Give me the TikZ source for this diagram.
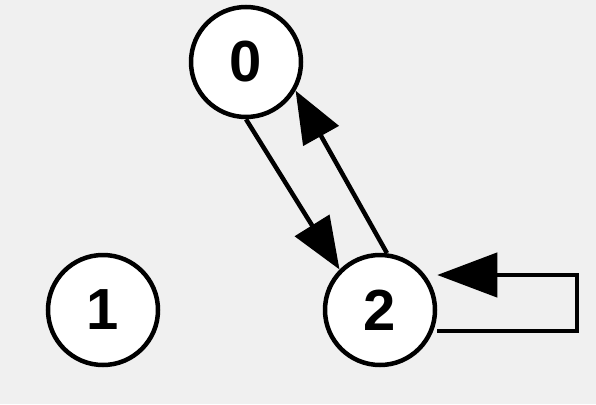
\documentclass[tikz,border=0pt]{standalone}
\usepackage{fontspec}
\setmainfont{Liberation Sans}
\usetikzlibrary{arrows.meta}
\definecolor{paper}{gray}{0.94}
\begin{document}
\begin{tikzpicture}[x=1pt,y=-1pt,
  state/.style={circle,draw=black,fill=white,line width=4.5pt,minimum size=110pt,inner sep=0pt,
    font=\fontsize{58}{58}\selectfont\bfseries},
  edge/.style={line width=4.5pt,-{Triangle[length=52pt,width=40pt]}}]
\fill[paper] (0,0) rectangle (596,404);
\useasboundingbox (0,0) rectangle (596,404);
\node[state] (n0) at (246,62) {0};
\node[state] (n1) at (103,310) {1};
\node[state] (n2) at (380,310) {2};
\draw[edge] (n0.-90) -- (n2.135);
\draw[edge] (n2.83) -- (n0.-30);
\coordinate (c1) at (577,331);
\coordinate (c2) at (577,275);
\draw[line width=4.5pt,-{Triangle[length=60pt,width=44pt]}] (n2.east |- c1) -- (c1) -- (c2) -- (n2.east |- c2);
\end{tikzpicture}
\end{document}
